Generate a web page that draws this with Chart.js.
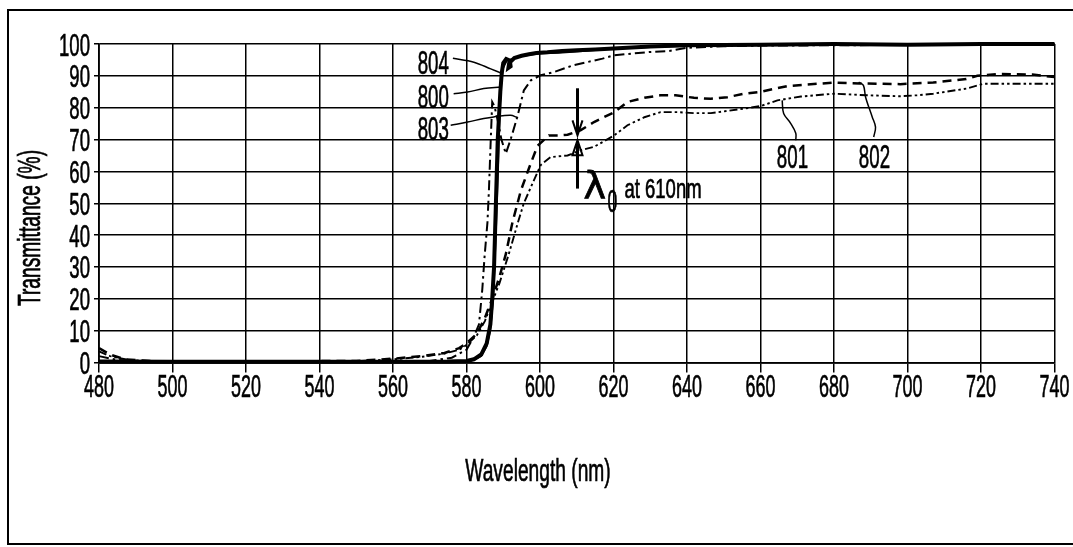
<!DOCTYPE html>
<html>
<head>
<meta charset="utf-8">
<script src="https://cdn.jsdelivr.net/npm/chart.js@4.4.1/dist/chart.umd.min.js"></script>
<style>
  html, body { margin: 0; padding: 0; background: #fff; }
  canvas { display: block; }
</style>
</head>
<body>
<canvas id="chart" width="1073" height="547"></canvas>
<script>
// Axis tick labels
const xTickLabels = [480, 500, 520, 540, 560, 580, 600, 620, 640, 660, 680, 700, 720, 740];
const yTickLabels = [0, 10, 20, 30, 40, 50, 60, 70, 80, 90, 100];

// Curve 804 (heavy solid)
const wl804 = [480, 500, 540, 575, 580, 582, 584, 585.5, 586.5, 587, 587.5, 588, 588.5, 589.2, 589.6, 590, 590.8, 591.8, 592, 591.4, 591.6, 593, 595, 597, 599, 602, 606, 610, 615, 620, 630, 640, 660, 680, 700, 720, 740];
const t804  = [0.3, 0.2, 0.2, 0.3, 0.5, 1, 2.5, 6, 12, 20, 30, 50, 70, 85, 91, 94, 95.3, 94.8, 93, 92.5, 94, 95.6, 96.3, 96.8, 97.2, 97.4, 97.8, 98, 98.3, 98.6, 99.2, 99.6, 99.8, 100, 99.8, 100, 100];

// Curve 800 (thin solid)
const wl800 = [480, 500, 540, 575, 580, 582, 584, 585.5, 586.5, 587.3, 588, 588.6, 589.1, 589.5, 590, 591, 593, 595, 600, 605, 610, 620, 630, 640, 660, 680, 700, 720, 740];
const t800  = [0.2, 0.2, 0.2, 0.2, 0.3, 0.8, 2, 5, 10, 20, 40, 60, 80, 88, 92.5, 94.8, 95.5, 96.2, 97, 97.2, 97.6, 98.5, 99, 99.4, 99.6, 99.8, 99.7, 99.9, 100];

// Curve 803 (dash-dot)
const wl803 = [480, 485, 495, 540, 570, 576, 580, 582, 583.4, 584.3, 584.9, 585.7, 586.1, 586.6, 587, 587.6, 588.5, 589.5, 590.7, 592, 593.8, 595.6, 597.5, 600.2, 603.8, 609, 617, 620, 625, 630, 635, 640, 650, 660, 680, 700, 720, 740];
const t803  = [2, 0.8, 0.3, 0.3, 0.5, 1.5, 4, 8, 12, 23, 33, 44, 54, 70, 81.8, 80.5, 76, 70, 65.6, 70, 77, 85.4, 88.6, 90.2, 91.2, 93.3, 95.4, 96.4, 97, 97.5, 97.8, 98.8, 99.3, 99.5, 99.6, 99.7, 99.8, 100];

// Curve 802 (dashed)
const wl802 = [480, 483, 487, 495, 520, 550, 560, 568, 574, 578, 580, 582.8, 585, 587, 589, 590.7, 592.5, 594.8, 597, 599.3, 602.4, 605, 607.5, 611, 614.7, 620.2, 623.8, 628.4, 632.8, 636.9, 641.9, 646.5, 651, 655.5, 660, 667.3, 680, 687, 698, 707, 716, 719, 725, 734, 740];
const t802  = [4.5, 2.5, 1, 0.4, 0.3, 0.5, 1.2, 2, 3, 4.5, 6, 9, 14, 20, 27, 34, 44, 54, 61, 68, 71.3, 71.3, 71.5, 72.9, 75.5, 78.6, 81.8, 83.1, 83.9, 83.9, 83.1, 82.8, 83.3, 84.4, 85, 86.8, 87.9, 87.6, 87.4, 87.9, 89, 90, 90.6, 90.4, 89.6];

// Curve 801 (long-short dash)
const wl801 = [480, 483, 488, 495, 520, 550, 560, 568, 574, 578, 580, 582.8, 585, 587, 589, 591.5, 594, 595.6, 597.5, 600.2, 602.9, 607.5, 611, 614.7, 620.2, 623.8, 628.4, 632.8, 637.4, 641.9, 646.5, 651, 655.5, 660, 664.6, 671, 680, 689, 698, 702.6, 707, 716, 720.7, 730, 740];
const t801  = [3.5, 2, 0.8, 0.4, 0.3, 0.4, 1, 1.8, 2.8, 4, 5.5, 8.5, 13, 19, 25, 34, 44, 50, 55, 62, 64.5, 65, 66.6, 67.7, 71.3, 74.5, 77, 78.6, 78.6, 78.3, 78.3, 79, 79.7, 80.5, 82.3, 83.5, 84.4, 83.9, 83.6, 83.9, 84.4, 86, 87.5, 87.5, 87.5];

// Reference-number leader lines (wavelength, transmittance)
const lead804x = [576.3, 582.0, 586.6, 589.8];
const lead804y = [95.5, 94.3, 92.2, 90.7];
const lead800x = [576.5, 580.3, 584.7, 589.3];
const lead800y = [84.4, 84.9, 86.0, 86.5];
const lead803x = [575.7, 580.3, 584.7, 587.4, 592.0, 593.8];
const lead803y = [74.5, 75.5, 76.6, 77.1, 77.6, 76.9];
const lead801x = [665.9, 666.3, 668.2, 669.6, 669.6];
const lead801y = [82.3, 78.2, 75.1, 72.0, 69.8];
const lead802x = [686.7, 688.0, 688.6, 690.4, 691.3, 690.8];
const lead802y = [88.0, 87.0, 83.3, 77.1, 73.9, 70.8];

// Reference numbers: text, wavelength anchor, baseline transmittance, alignment
const refLabels = ['804', '800', '803', '801', '802'];
const refX = [575.2, 575.2, 575.2, 668.7, 691.0];
const refY = [90.7, 79.8, 69.8, 61.2, 61.2];
const refAlign = ['right', 'right', 'right', 'center', 'center'];

// Lambda-zero marker
const lambdaWl = 610;
const arrowDown = [86.1, 71.3];
const arrowUp = [54.6, 69.8];

function pts(xs, ys) { return xs.map((x, i) => ({ x: x, y: ys[i] })); }

const FONT = '"Liberation Sans", Arial, sans-serif';

// Tall, narrow lettering: regular face squeezed horizontally, lightly stroked
function ctext(ctx, s, x, y, size, sx, align, rot) {
  ctx.save();
  ctx.translate(x, y);
  if (rot) ctx.rotate(rot);
  ctx.scale(sx, 1);
  ctx.font = size + 'px ' + FONT;
  ctx.textAlign = align || 'center';
  ctx.textBaseline = 'alphabetic';
  ctx.fillStyle = '#000';
  ctx.strokeStyle = '#000';
  ctx.lineWidth = 0.7;
  ctx.fillText(s, 0, 0);
  ctx.strokeText(s, 0, 0);
  ctx.restore();
}

const decor = {
  id: 'decor',
  beforeDraw(chart) {
    const ctx = chart.ctx;
    ctx.save();
    ctx.fillStyle = '#fff';
    ctx.fillRect(0, 0, chart.width, chart.height);
    ctx.restore();
  },
  afterDraw(chart) {
    const ctx = chart.ctx;
    const xs = chart.scales.x, ys = chart.scales.y;

    // tick labels
    xs.ticks.forEach((t, i) => {
      const px = xs.getPixelForValue(t.value);
      ctext(ctx, String(xTickLabels[i]), px, 397, 32, 0.56, 'center');
    });
    ys.ticks.forEach((t, i) => {
      const py = ys.getPixelForValue(t.value);
      ctext(ctx, String(yTickLabels[i]), 90, py + 11.5, 32, 0.58, 'right');
    });

    // axis titles
    ctext(ctx, 'Transmittance (%)', 40, 228, 32, 0.6, 'center', -Math.PI / 2);
    ctext(ctx, 'Wavelength (nm)', 538, 481, 32, 0.6, 'center');

    // reference numbers
    refLabels.forEach((s, i) => {
      ctext(ctx, s, xs.getPixelForValue(refX[i]), ys.getPixelForValue(refY[i]), 34, 0.55, refAlign[i]);
    });

    // lambda-zero arrows
    const ax = Math.round(xs.getPixelForValue(lambdaWl)) + 0.5;
    ctx.save();
    ctx.strokeStyle = '#000';
    ctx.lineWidth = 3;
    ctx.lineCap = 'butt';
    const d0 = ys.getPixelForValue(arrowDown[0]), d1 = ys.getPixelForValue(arrowDown[1]);
    ctx.beginPath(); ctx.moveTo(ax, d0); ctx.lineTo(ax, d1 - 3); ctx.stroke();
    ctx.lineWidth = 2;
    ctx.beginPath(); ctx.moveTo(ax - 5, d1 - 15); ctx.lineTo(ax, d1); ctx.lineTo(ax + 5, d1 - 15); ctx.stroke();
    const u0 = ys.getPixelForValue(arrowUp[0]), u1 = ys.getPixelForValue(arrowUp[1]);
    ctx.lineWidth = 3;
    ctx.beginPath(); ctx.moveTo(ax, u0); ctx.lineTo(ax, u1 + 3); ctx.stroke();
    ctx.lineWidth = 2;
    ctx.beginPath(); ctx.moveTo(ax - 5, u1 + 15); ctx.lineTo(ax, u1); ctx.lineTo(ax + 5, u1 + 15); ctx.closePath(); ctx.stroke();
    ctx.restore();

    // lambda-zero caption
    ctx.save();
    ctx.fillStyle = '#000';
    ctx.strokeStyle = '#000';
    ctx.lineWidth = 0.8;
    ctx.font = '38px "DejaVu Sans", sans-serif';
    ctx.textAlign = 'left';
    ctx.textBaseline = 'alphabetic';
    ctx.fillText('\u03bb', ax + 6, 198);
    ctx.strokeText('\u03bb', ax + 6, 198);
    ctx.restore();
    ctext(ctx, '0', ax + 30, 212, 32, 0.55, 'left');
    ctext(ctx, 'at 610nm', ax + 47, 198, 28, 0.66, 'left');

    // outer frame
    ctx.save();
    ctx.strokeStyle = '#000';
    ctx.lineWidth = 2;
    ctx.beginPath();
    ctx.moveTo(1073, 10); ctx.lineTo(8, 10); ctx.lineTo(8, 544); ctx.lineTo(1073, 544);
    ctx.stroke();
    ctx.restore();
  }
};

const curve = (label, xs, ys, width, dash) => ({
  label: label,
  data: pts(xs, ys),
  borderColor: '#000',
  borderWidth: width,
  borderDash: dash,
  pointRadius: 0,
  tension: 0,
  fill: false,
  clip: false
});

const leader = (xs, ys) => ({
  label: '',
  data: pts(xs, ys),
  borderColor: '#000',
  borderWidth: 1.5,
  pointRadius: 0,
  tension: 0.35,
  fill: false,
  clip: false
});

new Chart(document.getElementById('chart'), {
  type: 'line',
  data: {
    datasets: [
      curve('804', wl804, t804, 4, []),
      curve('800', wl800, t800, 1.6, []),
      curve('803', wl803, t803, 2, [10, 4, 2.5, 4]),
      curve('802', wl802, t802, 2.5, [9, 6]),
      curve('801', wl801, t801, 1.9, [8, 3, 2.5, 3, 2.5, 3]),
      leader(lead804x, lead804y),
      leader(lead800x, lead800y),
      leader(lead803x, lead803y),
      leader(lead801x, lead801y),
      leader(lead802x, lead802y)
    ]
  },
  options: {
    responsive: false,
    animation: false,
    devicePixelRatio: 1,
    layout: { padding: { left: 94, right: 18.5, top: 44, bottom: 174.5 } },
    plugins: { legend: { display: false }, tooltip: { enabled: false } },
    scales: {
      x: {
        type: 'linear', min: 480, max: 740,
        ticks: { stepSize: 20, display: false },
        grid: { color: '#000', lineWidth: 1.5, tickLength: 10, drawTicks: true },
        border: { display: true, color: '#000', width: 1.8 }
      },
      y: {
        type: 'linear', min: 0, max: 100,
        ticks: { stepSize: 10, display: false },
        grid: { color: '#000', lineWidth: 1.5, tickLength: 5, drawTicks: true },
        border: { display: true, color: '#000', width: 1.8 }
      }
    }
  },
  plugins: [decor]
});
</script>
</body>
</html>
